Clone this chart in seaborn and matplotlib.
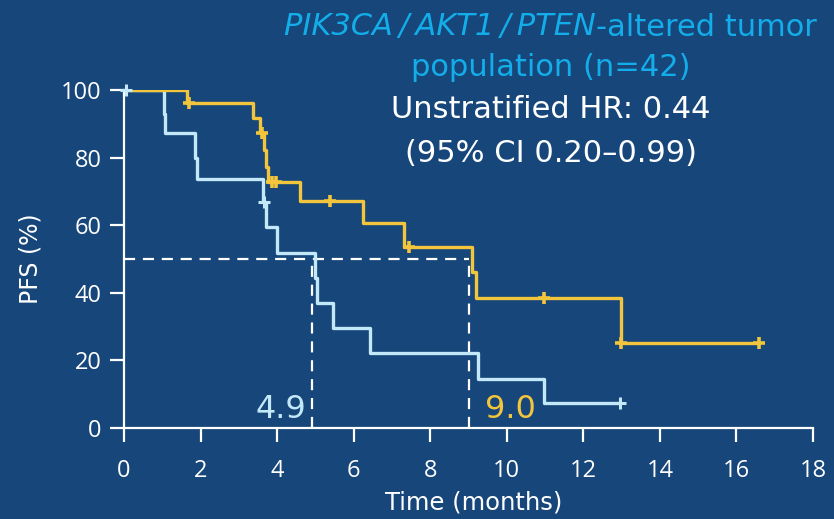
import matplotlib
matplotlib.use("Agg")
import matplotlib.pyplot as plt
import seaborn as sns
import pandas as pd

# Kaplan-Meier step data (time in months, PFS in %)
cap_time = [0, 1.65, 3.36, 3.55, 3.66, 3.71, 3.77, 4.61, 6.25, 7.31, 9.10, 9.19, 12.98, 16.58]
cap_pfs = [100, 96.1, 91.6, 87.4, 82.2, 77.3, 72.7, 67.2, 60.6, 53.6, 46.2, 38.4, 25.1, 25.1]
cap_cens_time = [1.70, 3.60, 3.86, 3.96, 5.38, 7.44, 10.97, 12.98, 16.58]
cap_cens_pfs = [96.1, 87.4, 72.7, 72.7, 67.2, 53.6, 38.4, 25.1, 25.1]

pbo_time = [0, 1.04, 1.08, 1.85, 1.90, 3.62, 3.72, 3.99, 4.99, 5.03, 5.47, 6.42, 9.26, 10.97, 12.95]
pbo_pfs = [100, 93.0, 87.2, 79.8, 73.6, 67.0, 59.4, 51.9, 44.3, 36.9, 29.5, 22.1, 14.5, 7.3, 7.3]
pbo_cens_time = [0.06, 3.65, 12.95]
pbo_cens_pfs = [100, 67.0, 7.3]

median_pbo = 4.9
median_cap = 9.0
median_level = 50

x_ticks = list(range(0, 19, 2))
y_ticks = [0, 20, 40, 60, 80, 100]

title_italic = "PIK3CA\u2009/\u2009AKT1\u2009/\u2009PTEN"
title_rest = "-altered tumor"
title_lines = ["population (n=42)"]
hr_lines = ["Unstratified HR: 0.44", "(95% CI 0.20\u20130.99)"]

BG = "#16467A"
YELLOW = "#F2C53D"
LIGHTBLUE = "#C3E8F8"
CYAN = "#13AEEA"
WHITE = "#FFFFFF"

sns.set_theme(style="ticks")
plt.rcParams["font.family"] = ["Open Sans", "DejaVu Sans"]
plt.rcParams["axes.edgecolor"] = WHITE
plt.rcParams["xtick.color"] = WHITE
plt.rcParams["ytick.color"] = WHITE
TXT = ["DejaVu Sans"]

fig = plt.figure(figsize=(8.34, 5.19), dpi=100, facecolor=BG)
ax = fig.add_axes([124 / 834, 1 - 428 / 519, 689 / 834, 338 / 519])
ax.set_facecolor(BG)

cap_df = pd.DataFrame({"t": cap_time, "s": cap_pfs})
pbo_df = pd.DataFrame({"t": pbo_time, "s": pbo_pfs})

# median reference lines
dash = dict(color=WHITE, lw=1.6, dashes=(5, 3.5), zorder=2)
ax.plot([0, median_cap], [median_level, median_level], **dash)
ax.plot([median_pbo, median_pbo], [0, median_level], **dash)
ax.plot([median_cap, median_cap], [0, median_level], **dash)

sns.lineplot(data=pbo_df, x="t", y="s", drawstyle="steps-post", estimator=None,
             sort=False, color=LIGHTBLUE, lw=2.4, ax=ax, zorder=3)
sns.lineplot(data=cap_df, x="t", y="s", drawstyle="steps-post", estimator=None,
             sort=False, color=YELLOW, lw=2.4, ax=ax, zorder=4)

ax.plot(pbo_cens_time, pbo_cens_pfs, ls="none", marker="+", ms=8, mew=2.2,
        color=LIGHTBLUE, zorder=5, clip_on=False)
ax.plot(cap_cens_time, cap_cens_pfs, ls="none", marker="+", ms=8, mew=2.6,
        color=YELLOW, zorder=6, clip_on=False)

ax.text(median_pbo - 0.15, 0.8, f"{median_pbo:.1f}", color=LIGHTBLUE, fontsize=23,
        family=TXT, ha="right", va="bottom")
ax.text(median_cap + 0.42, 0.8, f"{median_cap:.1f}", color=YELLOW, fontsize=23,
        family=TXT, ha="left", va="bottom")

ax.set_xlim(0, 18)
ax.set_ylim(0, 100)
ax.set_xticks(x_ticks)
ax.set_yticks(y_ticks)
ax.tick_params(axis="both", length=10, width=1.6, labelsize=17, labelcolor=WHITE)
ax.tick_params(axis="x", pad=12)
ax.tick_params(axis="y", pad=6)
for side in ["left", "bottom"]:
    ax.spines[side].set_linewidth(1.6)
    ax.spines[side].set_color(WHITE)
sns.despine(ax=ax)

ax.set_xlabel("Time (months)", color=WHITE, fontsize=17.5, family=TXT)
ax.set_ylabel("PFS (%)", color=WHITE, fontsize=17, family=TXT)
ax.xaxis.set_label_coords(0.507, -0.185)
ax.yaxis.set_label_coords(-0.118, 0.5)

# heading
split_x = 596 / 834
fig.text(split_x, 1 - 27 / 519, title_italic, color=CYAN, fontsize=22,
         family=TXT, style="italic", ha="right", va="center")
fig.text(split_x, 1 - 27 / 519, title_rest, color=CYAN, fontsize=22,
         family=TXT, ha="left", va="center")
fig.text(551 / 834, 1 - 68 / 519, title_lines[0], color=CYAN, fontsize=22,
         family=TXT, ha="center", va="center")
fig.text(551 / 834, 1 - 110 / 519, hr_lines[0], color=WHITE, fontsize=22,
         family=TXT, ha="center", va="center")
fig.text(551 / 834, 1 - 153 / 519, hr_lines[1], color=WHITE, fontsize=22,
         family=TXT, ha="center", va="center")

fig.savefig("out.png", dpi=100, facecolor=BG)
